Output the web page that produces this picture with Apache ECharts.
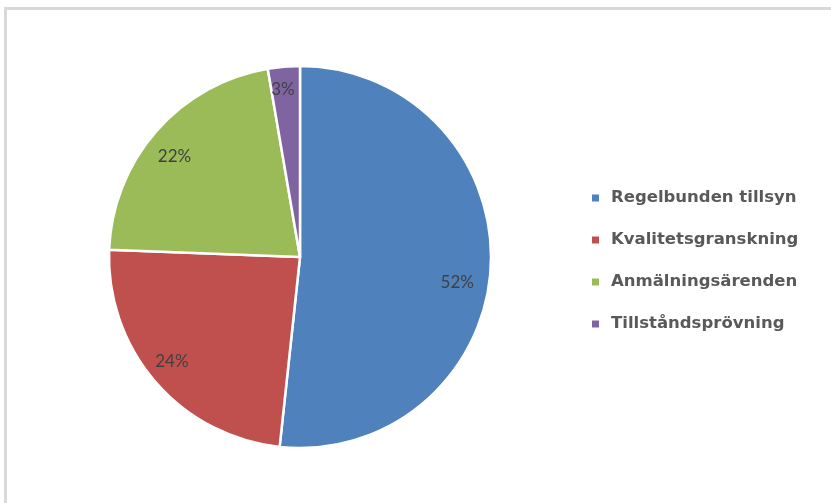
<!DOCTYPE html>
<html>
<head>
<meta charset="utf-8">
<script src="https://cdn.jsdelivr.net/npm/echarts@6/dist/echarts.min.js"></script>
<style>
  html, body { margin: 0; padding: 0; background: #fff; }
  #main { width: 831px; height: 503px; }
</style>
</head>
<body>
<div id="main"></div>
<script>
// categories and shares (percent)
var categories = ['Regelbunden tillsyn', 'Kvalitetsgranskning', 'Anmälningsärenden', 'Tillståndsprövning'];
var shares = [51.7, 23.9, 21.7, 2.7];
var colors = ['#4F81BD', '#C0504D', '#9BBB59', '#8064A2'];

var chartDom = document.getElementById('main');
var myChart = echarts.init(chartDom);

// small nudges so labels sit like Excel's "best fit"
var labelNudge = [[-8, 17], [-3, -4], [-1, 9], [-3, -3]];

var option = {
  animation: false,
  graphic: [
    {
      type: 'rect',
      shape: { x: 5.5, y: 8.5, width: 900, height: 600 },
      style: { fill: 'none', stroke: '#d9d9d9', lineWidth: 3 },
      silent: true
    }
  ],
  legend: {
    orient: 'vertical',
    left: 587,
    top: 183,
    icon: 'rect',
    itemWidth: 7,
    itemHeight: 7,
    itemGap: 22,
    data: categories,
    itemStyle: { borderWidth: 0 },
    textStyle: {
      color: '#595959',
      fontFamily: 'DejaVu Sans',
      fontWeight: 'bold',
      fontSize: 16.5,
      lineHeight: 20,
      padding: [0, 0, 0, 7]
    }
  },
  series: [
    {
      // main pie
      type: 'pie',
      center: [300, 257],
      radius: [0, 191],
      startAngle: 90,
      clockwise: true,
      data: categories.map(function (name, i) {
        return { name: name, value: shares[i], itemStyle: { color: colors[i] } };
      }),
      itemStyle: { borderColor: '#fff', borderWidth: 2.5 },
      label: { show: false },
      labelLine: { show: false },
      silent: true
    },
    {
      // transparent ring that only carries the percent labels near the rim
      type: 'pie',
      center: [300, 257],
      radius: [134, 191],
      startAngle: 90,
      clockwise: true,
      data: categories.map(function (name, i) {
        return { name: name, value: shares[i], label: { offset: labelNudge[i] } };
      }),
      itemStyle: { color: 'rgba(0,0,0,0)' },
      label: {
        show: true,
        position: 'inside',
        color: '#404040',
        fontFamily: 'Lato',
        fontSize: 17,
        formatter: function (p) { return Math.round(p.percent) + '%'; }
      },
      labelLine: { show: false },
      silent: true,
      legendHoverLink: false
    }
  ]
};

option && myChart.setOption(option);
</script>
</body>
</html>
